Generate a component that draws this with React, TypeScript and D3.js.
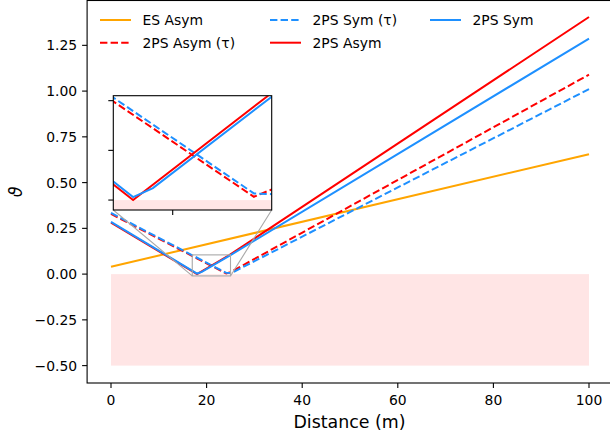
import * as d3 from "d3";

// 데이터
const xTicks = [0, 20, 40, 60, 80, 100];
const yTicks = [-0.5, -0.25, 0, 0.25, 0.5, 0.75, 1.0, 1.25];
const insetXTicks = [20];
const insetYTicks = [0, 0.05, 0.1];

const esAsymX = [0, 100];
const esAsymY = [0.04, 0.655];
const asymTauX = [0, 24.1, 25, 100];
const asymTauY = [0.329, 0.0033, 0.0107, 1.09];
const symTauX = [0, 24.1, 25.2, 100];
const symTauY = [0.334, 0.0067, 0.0058, 1.011];
const asymX = [0, 18, 24.75, 100];
const asymY = [0.281, 0, 0.104, 1.405];
const symX = [0, 18, 19, 25, 100];
const symY = [0.285, 0.003, 0.012, 0.104, 1.287];

const seriesNames = ["ES Asym", "2PS Asym (τ)", "2PS Sym (τ)", "2PS Asym", "2PS Sym"];
const seriesXs = [esAsymX, asymTauX, symTauX, asymX, symX];
const seriesYs = [esAsymY, asymTauY, symTauY, asymY, symY];

// 음수 영역 (빨간 음영)
const shadeX = [0, 100];
const shadeY = [-0.5, 0];

// 확대 영역
const zoomX = [17, 25];
const zoomY = [-0.01, 0.105];

const styles = [
  { color: "#ffa500", dash: false },
  { color: "#ff0000", dash: true },
  { color: "#1e90ff", dash: true },
  { color: "#ff0000", dash: false },
  { color: "#1e90ff", dash: false },
];

const FONT = "DejaVu Sans, sans-serif";
const W = 610;
const H = 436;

const fmt = (d: number) => d.toFixed(2).replace("-", "\u2212");

export default function App() {
  const x = d3.scaleLinear().domain([-5, 105]).range([87.1, 612.9]);
  const y = d3.scaleLinear().domain([-0.595, 1.495]).range([383, 0.5]);

  const ix = d3.scaleLinear().domain(zoomX).range([113.3, 271.7]);
  const iy = d3.scaleLinear().domain(zoomY).range([210, 95.7]);

  const pts = (k: number) => seriesXs[k].map((v, i) => [v, seriesYs[k][i]] as [number, number]);
  const line = d3.line<[number, number]>().x((d) => x(d[0])).y((d) => y(d[1]));
  const iline = d3.line<[number, number]>().x((d) => ix(d[0])).y((d) => iy(d[1]));

  const [L, R] = x.range();
  const [B, T] = y.range();

  // 범례 위치 (3열, 열 우선)
  const legendCols = [100, 270, 430];
  const legendRows = [20, 42.7];

  return (
    <svg width={W} height={H} style={{ position: "absolute", left: 0, top: 0, background: "white" }} fontFamily={FONT}>
      <defs>
        <clipPath id="main-clip">
          <rect x={L} y={T} width={R - L} height={B - T} />
        </clipPath>
        <clipPath id="inset-clip">
          <rect x={ix(zoomX[0])} y={iy(zoomY[1])} width={ix(zoomX[1]) - ix(zoomX[0])} height={iy(zoomY[0]) - iy(zoomY[1])} />
        </clipPath>
      </defs>

      <g clipPath="url(#main-clip)">
        <rect x={x(shadeX[0])} y={y(shadeY[1])} width={x(shadeX[1]) - x(shadeX[0])} height={y(shadeY[0]) - y(shadeY[1])} fill="#ff0000" fillOpacity={0.1} />
        {seriesNames.map((n, k) => (
          <path key={n} d={line(pts(k)) || ""} fill="none" stroke={styles[k].color} strokeWidth={2}
            strokeDasharray={styles[k].dash ? "7.4,3.2" : undefined} />
        ))}
        {/* 확대 영역 표시 */}
        <rect x={x(zoomX[0])} y={y(zoomY[1])} width={x(zoomX[1]) - x(zoomX[0])} height={y(zoomY[0]) - y(zoomY[1])}
          fill="none" stroke="#a8a8a8" strokeWidth={1.1} />
        <line x1={ix(zoomX[0])} y1={iy(zoomY[0])} x2={x(zoomX[0])} y2={y(zoomY[0])} stroke="#a8a8a8" strokeWidth={1.1} />
        <line x1={ix(zoomX[1])} y1={iy(zoomY[0])} x2={x(zoomX[1])} y2={y(zoomY[0])} stroke="#a8a8a8" strokeWidth={1.1} />
      </g>

      {/* 축 */}
      <rect x={L} y={T} width={R - L} height={B - T} fill="none" stroke="#000" strokeWidth={1.1} />
      {xTicks.map((t) => (
        <g key={t}>
          <line x1={x(t)} x2={x(t)} y1={B} y2={B + 5} stroke="#000" strokeWidth={1.1} />
          <text x={x(t)} y={404.5} textAnchor="middle" fontSize={13.9}>{t}</text>
        </g>
      ))}
      {yTicks.map((t) => (
        <g key={t}>
          <line x1={L - 5} x2={L} y1={y(t)} y2={y(t)} stroke="#000" strokeWidth={1.1} />
          <text x={L - 10} y={y(t)} dy="0.36em" textAnchor="end" fontSize={13.9}>{fmt(t)}</text>
        </g>
      ))}
      <text x={(L + R) / 2 - 0.5} y={428} textAnchor="middle" fontSize={17.4}>Distance (m)</text>
      <text transform={`translate(21.5,${(B + T) / 2}) rotate(-90)`} textAnchor="middle" fontSize={17.4} fontStyle="italic">ϑ</text>

      {/* 범례 */}
      {seriesNames.map((n, k) => {
        const cx = legendCols[Math.floor(k / 2)];
        const cy = legendRows[k % 2];
        return (
          <g key={n}>
            <line x1={cx} x2={cx + 31} y1={cy} y2={cy} stroke={styles[k].color} strokeWidth={2}
              strokeDasharray={styles[k].dash ? "7.4,3.2" : undefined} />
            <text x={cx + 42.5} y={cy + 5.2} fontSize={13.9}>{n}</text>
          </g>
        );
      })}

      {/* 확대 그림 */}
      <rect x={ix(zoomX[0])} y={iy(zoomY[1])} width={ix(zoomX[1]) - ix(zoomX[0])} height={iy(zoomY[0]) - iy(zoomY[1])} fill="white" />
      <g clipPath="url(#inset-clip)">
        <rect x={ix(zoomX[0])} y={iy(shadeY[1])} width={ix(zoomX[1]) - ix(zoomX[0])} height={iy(zoomY[0]) - iy(shadeY[1])} fill="#ff0000" fillOpacity={0.1} />
        {seriesNames.map((n, k) => (
          <path key={n} d={iline(pts(k)) || ""} fill="none" stroke={styles[k].color} strokeWidth={2}
            strokeDasharray={styles[k].dash ? "7.4,3.2" : undefined} />
        ))}
      </g>
      <rect x={ix(zoomX[0])} y={iy(zoomY[1])} width={ix(zoomX[1]) - ix(zoomX[0])} height={iy(zoomY[0]) - iy(zoomY[1])} fill="none" stroke="#000" strokeWidth={1.1} />
      {insetXTicks.map((t) => (
        <line key={t} x1={ix(t)} x2={ix(t)} y1={iy(zoomY[0])} y2={iy(zoomY[0]) + 5} stroke="#000" strokeWidth={1.1} />
      ))}
      {insetYTicks.map((t) => (
        <line key={t} x1={ix(zoomX[0]) - 5} x2={ix(zoomX[0])} y1={iy(t)} y2={iy(t)} stroke="#000" strokeWidth={1.1} />
      ))}
    </svg>
  );
}
